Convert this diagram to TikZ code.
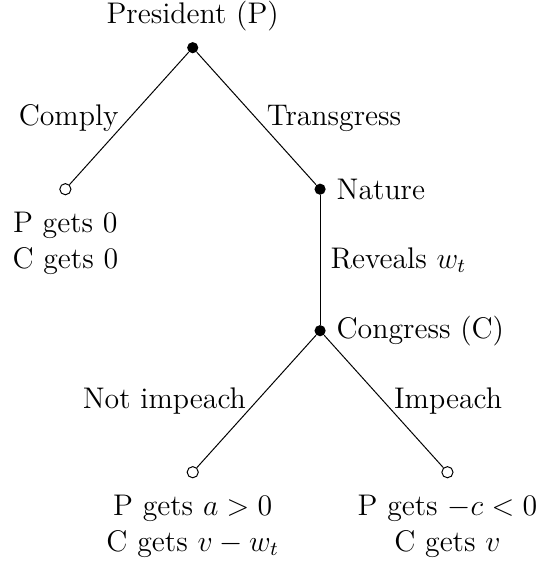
\documentclass[12pt,tikz,border=0pt]{standalone}
\usepackage{amsmath,amssymb}
\usepackage{tikz}
\usetikzlibrary{positioning}

\begin{document}
\begin{tikzpicture}[
    on grid,
    dec/.style={circle, fill, inner sep=0pt, minimum size=4.5pt},
    term/.style={circle, draw, fill=white, inner sep=0pt, minimum size=4.5pt},
    pay/.style={align=center, label distance=2.5pt},
  ]
  \useasboundingbox (-2.724,0.674) rectangle (4.852,-7.255);

  % Decision nodes
  \node[dec, label=above:{President (P)}] (pres) at (0,0) {};
  \node[dec, below right=2cm and 1.8cm of pres, label=right:{Nature}] (nature) {};
  \node[dec, below=2cm of nature, label=right:{Congress (C)}] (cong) {};

  % Terminal nodes with payoffs
  \node[term, below left=2cm and 1.8cm of pres,
        label={[pay]below:{P gets $0$\\C gets $0$}}] (comply) {};
  \node[term, below left=2cm and 1.8cm of cong,
        label={[pay]below:{P gets $a>0$\\C gets $v-w_t$}}] (noimp) {};
  \node[term, below right=2cm and 1.8cm of cong,
        label={[pay]below:{P gets $-c<0$\\C gets $v$}}] (imp) {};

  % Branches
  \draw (pres) -- node[left] {Comply} (comply);
  \draw (pres) -- node[right] {Transgress} (nature);
  \draw (nature) -- node[right] {Reveals $w_t$} (cong);
  \draw (cong) -- node[left] {Not impeach} (noimp);
  \draw (cong) -- node[right] {Impeach} (imp);

\end{tikzpicture}
\end{document}
